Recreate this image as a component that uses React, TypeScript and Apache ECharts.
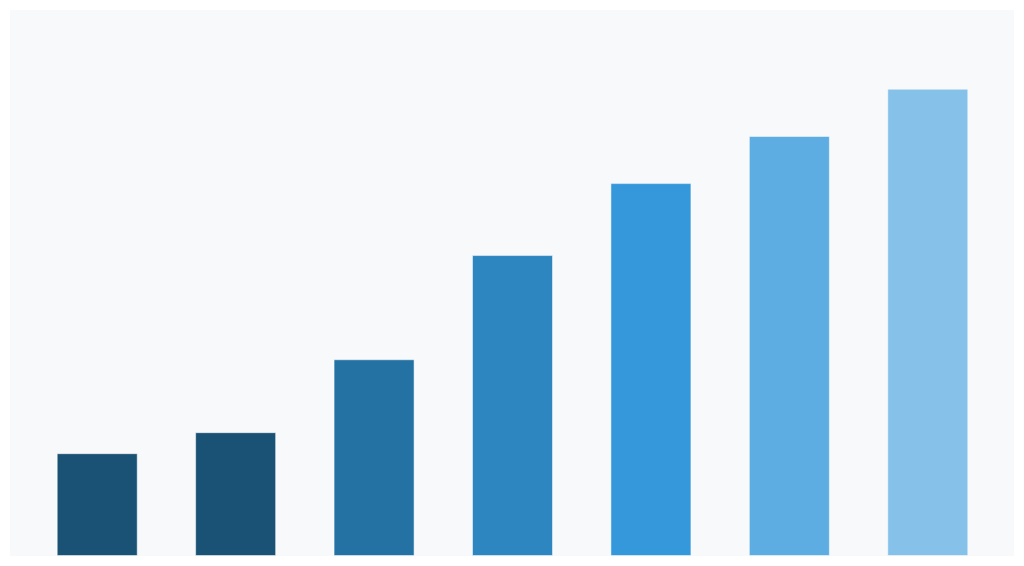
import React, { useEffect, useRef } from "react";
import * as echarts from "echarts";

const categories = ["A", "B", "C", "D", "E", "F", "G"];
const values = [2.2, 2.65, 4.21, 6.44, 7.98, 8.99, 10];
const barColors = [
  "#1a5276",
  "#1a5276",
  "#2471a3",
  "#2e86c1",
  "#3498db",
  "#5dade2",
  "#85c1e9",
];

const App: React.FC = () => {
  const chartRef = useRef<HTMLDivElement>(null);

  useEffect(() => {
    if (!chartRef.current) return;
    const chart = echarts.init(chartRef.current, undefined, { renderer: "svg" });

    chart.setOption({
      animation: false,
      backgroundColor: "#f8f9fb",
      grid: { left: 18, right: 17, top: 32, bottom: 0 },
      xAxis: {
        type: "category",
        data: categories,
        show: false,
      },
      yAxis: {
        type: "value",
        min: 0,
        max: 11,
        show: false,
      },
      series: [
        {
          type: "bar",
          barWidth: 81,
          data: values.map((v, i) => ({
            value: v,
            itemStyle: { color: barColors[i] },
          })),
          itemStyle: {
            borderColor: "rgba(255,255,255,0.5)",
            borderWidth: 1,
          },
        },
      ],
    });

    return () => {
      chart.dispose();
    };
  }, []);

  return (
    <div style={{ padding: 2 }}>
      <div ref={chartRef} style={{ width: 1004, height: 546 }} />
    </div>
  );
};

export default App;
